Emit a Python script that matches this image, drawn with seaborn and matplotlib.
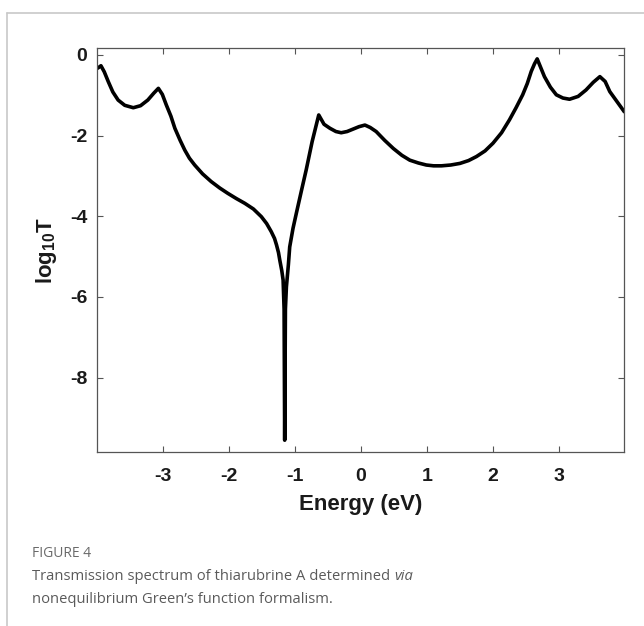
import matplotlib
matplotlib.use("Agg")
import matplotlib.pyplot as plt
import seaborn as sns
import pandas as pd

# Data (Energy in eV, log10 T)
energy = [-3.99, -3.94, -3.89, -3.83, -3.76, -3.68, -3.58, -3.45, -3.34, -3.23, -3.14, -3.07,
          -3.01, -2.95, -2.88, -2.82, -2.74, -2.67, -2.60, -2.52, -2.40, -2.27, -2.14, -2.02,
          -1.89, -1.76, -1.63, -1.51, -1.43, -1.36, -1.31, -1.28, -1.25, -1.23, -1.20, -1.18,
          -1.165, -1.156, -1.145, -1.13, -1.10, -1.08, -1.03, -0.98, -0.90, -0.83, -0.74,
          -0.64, -0.56, -0.47, -0.38, -0.30, -0.21, -0.12, -0.03, 0.06, 0.14, 0.23, 0.36,
          0.49, 0.62, 0.74, 0.87, 0.99, 1.10, 1.22, 1.36, 1.50, 1.63, 1.75, 1.88, 2.00,
          2.13, 2.25, 2.35, 2.45, 2.52, 2.58, 2.63, 2.67, 2.72, 2.78, 2.87, 2.96, 3.06,
          3.16, 3.29, 3.41, 3.52, 3.62, 3.70, 3.77, 3.88, 3.99]
log10_T = [-0.33, -0.27, -0.42, -0.66, -0.92, -1.12, -1.25, -1.31, -1.26, -1.12, -0.95, -0.83,
           -0.98, -1.24, -1.52, -1.82, -2.12, -2.36, -2.56, -2.73, -2.95, -3.14, -3.30, -3.43,
           -3.56, -3.68, -3.82, -4.01, -4.18, -4.38, -4.55, -4.71, -4.90, -5.09, -5.35, -5.58,
           -6.30, -9.55, -6.30, -5.75, -5.20, -4.76, -4.30, -3.93, -3.35, -2.85, -2.15,
           -1.49, -1.72, -1.82, -1.90, -1.93, -1.90, -1.84, -1.78, -1.74, -1.80, -1.90, -2.12,
           -2.32, -2.49, -2.61, -2.68, -2.73, -2.75, -2.75, -2.73, -2.69, -2.62, -2.52, -2.38,
           -2.19, -1.93, -1.61, -1.31, -0.99, -0.71, -0.41, -0.22, -0.10, -0.30, -0.54, -0.80,
           -0.99, -1.07, -1.10, -1.03, -0.87, -0.68, -0.54, -0.66, -0.91, -1.16, -1.41]

x_ticks = [-3, -2, -1, 0, 1, 2, 3]
y_ticks = [0, -2, -4, -6, -8]

df = pd.DataFrame({"Energy": energy, "logT": log10_T})

sns.set_style("white")
plt.rcParams["font.family"] = ["Liberation Sans", "DejaVu Sans"]
plt.rcParams["mathtext.fontset"] = "custom"
plt.rcParams["mathtext.rm"] = "Liberation Sans:bold"
plt.rcParams["mathtext.it"] = "Liberation Sans:bold"
plt.rcParams["mathtext.bf"] = "Liberation Sans:bold"

fig = plt.figure(figsize=(6.44, 6.26), dpi=100)
ax = fig.add_axes([97 / 644, 1 - 452.3 / 626, (624.3 - 97) / 644, (452.3 - 48) / 626])

sns.lineplot(data=df, x="Energy", y="logT", ax=ax, color="black", linewidth=2.6,
             estimator=None, sort=False)

ax.set_xlim(-4.0, 3.99)
ax.set_ylim(-9.85, 0.17)
ax.set_xticks(x_ticks)
ax.set_yticks(y_ticks)
ax.set_xticklabels([str(t) for t in x_ticks], fontsize=14, fontweight="bold", color="#1a1a1a")
ax.set_yticklabels([str(t) for t in y_ticks], fontsize=14, fontweight="bold", color="#1a1a1a")
ax.tick_params(direction="in", length=4, width=0.8, color="#555555", top=True, right=True,
               bottom=True, left=True)
ax.tick_params(axis="x", pad=11)
ax.tick_params(axis="y", pad=7)
for s in ax.spines.values():
    s.set_visible(True)
    s.set_color("#555555")
    s.set_linewidth(0.9)

ax.set_xlabel("Energy (eV)", fontsize=16, fontweight="bold", color="#1a1a1a", labelpad=7)
ax.set_ylabel("log$_{10}$T", fontsize=16, fontweight="bold", color="#1a1a1a", labelpad=8)

# Frame lines of the figure panel
fig.add_artist(plt.Line2D([7 / 644, 1], [1 - 13 / 626, 1 - 13 / 626], color="#c8c8c8", lw=1.2))
fig.add_artist(plt.Line2D([7 / 644, 7 / 644], [0, 1 - 13 / 626], color="#c8c8c8", lw=1.2))

# Caption
cap_font = ["Open Sans", "DejaVu Sans"]
fig.text(32 / 644, 1 - 557 / 626, "FIGURE 4", fontsize=10, color="#6a6a6a",
         family=cap_font, va="baseline", ha="left")
t1 = fig.text(32 / 644, 1 - 580 / 626, "Transmission spectrum of thiarubrine A determined ",
              fontsize=10.6, color="#5a5a5a", family=cap_font, va="baseline", ha="left")
ax.annotate("via", xy=(1, 0), xycoords=t1, xytext=(0, 0), textcoords="offset points",
            fontsize=10.6, color="#5a5a5a", family=cap_font, style="italic",
            va="bottom", ha="left", annotation_clip=False)
fig.text(32 / 644, 1 - 603 / 626, "nonequilibrium Green\u2019s function formalism.",
         fontsize=10.6, color="#5a5a5a", family=cap_font, va="baseline", ha="left")

fig.savefig("out.png", dpi=100)
